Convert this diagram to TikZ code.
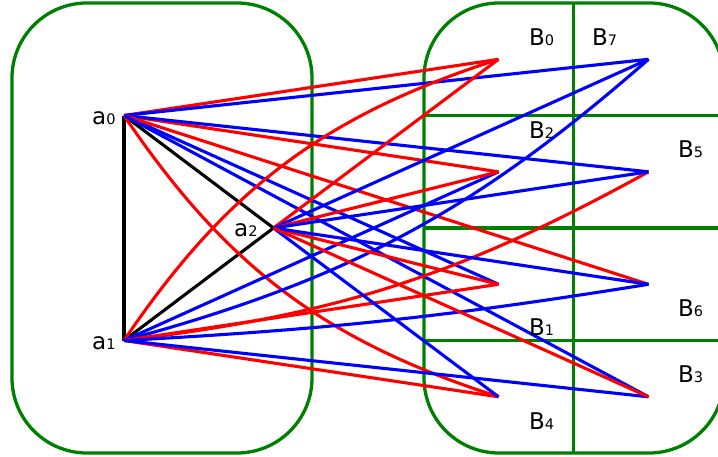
\documentclass[tikz,border=0pt]{standalone}
\usepackage{fontspec}
\newfontfamily\labfont{DejaVu Sans}
\newcommand{\lsub}[1]{{\fontsize{14.5}{14.5}\selectfont #1}}
\definecolor{mgreen}{RGB}{0,128,0}
\definecolor{mred}{RGB}{255,0,0}
\definecolor{mblue}{RGB}{0,0,255}
\tikzset{
  grn/.style={draw=mgreen, line width=3.3},
  rededge/.style={draw=mred, line width=3.1},
  blueedge/.style={draw=mblue, line width=3.1},
  blackedge/.style={draw=black, line width=3.1},
  lab/.style={anchor=base west, inner sep=0pt, font=\labfont\fontsize{23}{23}\selectfont}
}
\begin{document}
\begin{tikzpicture}[x=1pt,y=-1pt]
\useasboundingbox (0,0) rectangle (718,456);
\clip (0,0) rectangle (718,456);
% boxes
\draw[grn, rounded corners=75] (12,3) rectangle (312,453);
\draw[grn, rounded corners=75] (424,3) rectangle (724,453);
\coordinate (vt) at (573.5,3);
\coordinate (vb) at (573.5,453);
\coordinate (h1l) at (424,115.5); \coordinate (h1r) at (724,115.5);
\coordinate (h2l) at (424,228);   \coordinate (h2r) at (724,228);
\coordinate (h3l) at (424,340.5); \coordinate (h3r) at (724,340.5);
\draw[grn] (vt) -- (vb);
\draw[grn] (h1l) -- (h1r);
\draw[grn] (h2l) -- (h2r);
\draw[grn] (h3l) -- (h3r);
% vertices
\coordinate (a0) at (124,115.5);
\coordinate (a1) at (124,340.5);
\coordinate (a2) at (273.5,228);
\coordinate (P0) at (498.5,59.3);
\coordinate (P1) at (498.5,171.8);
\coordinate (P2) at (498.5,284.3);
\coordinate (P3) at (498.5,396.8);
\coordinate (Q0) at (648.5,59.3);
\coordinate (Q1) at (648.5,171.8);
\coordinate (Q2) at (648.5,284.3);
\coordinate (Q3) at (648.5,396.8);
% black triangle
\draw[blackedge] (a0) -- (a1);
\draw[blackedge] (a0) -- (a2);
\draw[blackedge] (a1) -- (a2);
% edges from a0
\draw[rededge] (a0) -- (P0);
\draw[blueedge] (a0) -- (Q0);
\draw[rededge] (a0) -- (P1);
\draw[blueedge] (a0) -- (Q1);
\draw[blueedge] (a0) -- (P2);
\draw[rededge] (a0) -- (Q2);
\draw[rededge] (a0) to[bend right=19] (P3);
\draw[blueedge] (a0) -- (Q3);
% edges from a1
\draw[rededge] (a1) to[bend left=19] (P0);
\draw[blueedge] (a1) to[bend right=13] (Q0);
\draw[blueedge] (a1) -- (P1);
\draw[rededge] (a1) to[bend right=11] (Q1);
\draw[rededge] (a1) -- (P2);
\draw[blueedge] (a1) to[bend right=3] (Q2);
\draw[rededge] (a1) -- (P3);
\draw[blueedge] (a1) -- (Q3);
% edges from a2
\draw[rededge] (a2) -- (P0);
\draw[blueedge] (a2) -- (Q0);
\draw[rededge] (a2) -- (P1);
\draw[blueedge] (a2) -- (Q1);
\draw[rededge] (a2) -- (P2);
\draw[blueedge] (a2) -- (Q2);
\draw[blueedge] (a2) -- (P3);
\draw[rededge] (a2) -- (Q3);
% labels
\node[lab] (la0) at (92,124) {a\lsub{0}};
\node[lab] (la1) at (92,349) {a\lsub{1}};
\node[lab] (la2) at (234,236.5) {a\lsub{2}};
\node[lab] (lB0) at (529,45) {B\lsub{0}};
\node[lab] (lB7) at (592,45) {B\lsub{7}};
\node[lab] (lB2) at (529,138) {B\lsub{2}};
\node[lab] (lB5) at (678,157) {B\lsub{5}};
\node[lab] (lB6) at (678,316) {B\lsub{6}};
\node[lab] (lB1) at (529,335) {B\lsub{1}};
\node[lab] (lB3) at (678,382) {B\lsub{3}};
\node[lab] (lB4) at (529,429) {B\lsub{4}};
\end{tikzpicture}
\end{document}
